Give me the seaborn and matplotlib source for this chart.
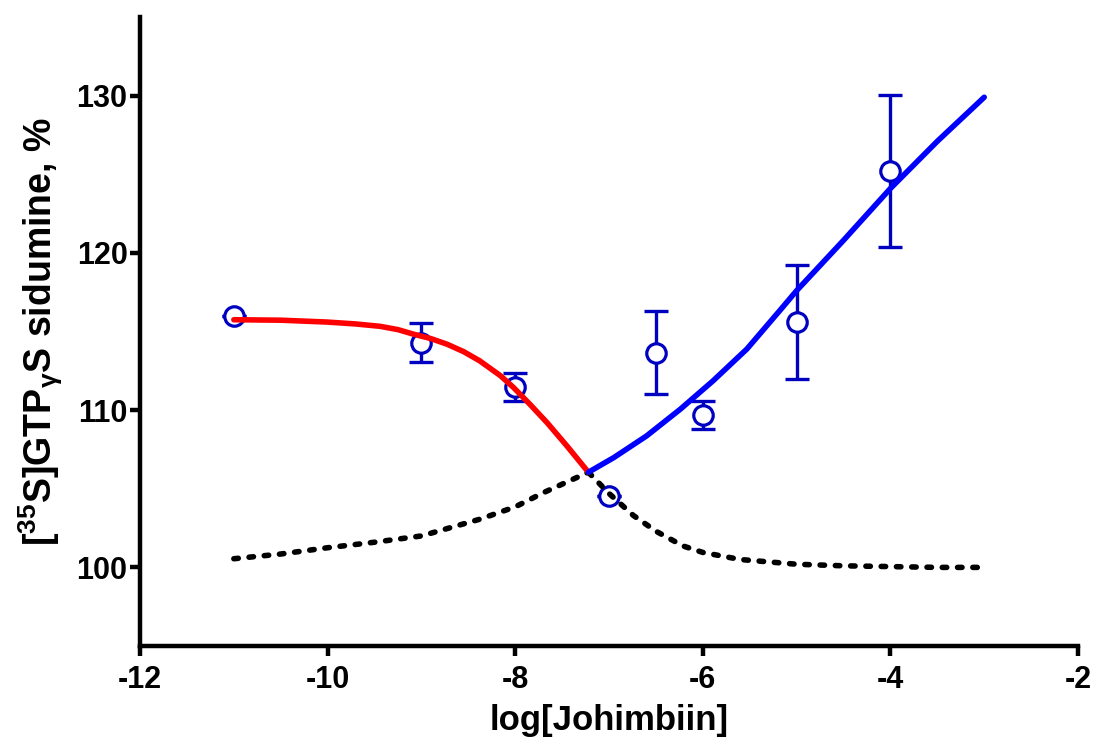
import numpy as np
import pandas as pd
import matplotlib
matplotlib.use('Agg')
import matplotlib.pyplot as plt
import seaborn as sns

# measured points (mean +/- SEM)
log_conc = [-11, -9, -8, -7, -6.5, -6, -5, -4]
response = [116.0, 114.3, 111.45, 104.55, 113.65, 109.7, 115.6, 125.2]
sem = [0, 1.25, 0.9, 0, 2.65, 0.9, 3.6, 4.85]

# fitted curves
red_x = [-11, -10.5, -10, -9.7, -9.44, -9.25, -9.09, -8.9, -8.73, -8.55, -8.38, -8.16,
         -8.02, -7.84, -7.66, -7.45, -7.22]
red_y = [115.75, 115.72, 115.6, 115.48, 115.33, 115.12, 114.84, 114.55, 114.2, 113.72,
         113.14, 112.2, 111.45, 110.35, 109.2, 107.73, 106.05]

blue_x = [-7.22, -6.95, -6.6, -6.24, -5.89, -5.53, -5.18, -5.0, -4.75, -4.5, -4.0, -3.5, -3.0]
blue_y = [106.05, 106.98, 108.36, 110.06, 111.87, 113.89, 116.33, 117.6, 119.2, 120.8, 124.1, 127.1, 129.9]

rise_x = [-11, -10.5, -10, -9.5, -9, -8.38, -8, -7.7, -7.22]
rise_y = [100.55, 100.85, 101.25, 101.6, 102.0, 103.06, 103.85, 104.75, 106.05]

fall_x = [-7.22, -7.0, -6.74, -6.5, -6.21, -6, -5.6, -5, -4.5, -4, -3.5, -3]
fall_y = [106.05, 104.7, 103.3, 102.3, 101.36, 100.95, 100.5, 100.2, 100.1, 100.05, 100.0, 100.0]

sns.set_style('ticks')
plt.rcParams['font.family'] = ['Liberation Sans', 'DejaVu Sans']
plt.rcParams['font.weight'] = 'bold'
plt.rcParams['mathtext.default'] = 'regular'
plt.rcParams['axes.unicode_minus'] = False
for k in ['text.color', 'axes.labelcolor', 'xtick.color', 'ytick.color', 'axes.edgecolor']:
    plt.rcParams[k] = 'black'

fig = plt.figure(figsize=(10.95, 7.47), dpi=100)
ax = fig.add_axes([0.1279, 0.1352, 0.8566, 0.842])

pt_color = '#0000C0'
ax.errorbar(log_conc, response, yerr=sem, fmt='none', ecolor=pt_color,
            elinewidth=2.4, capsize=8.3, capthick=2.4, zorder=2)
sns.scatterplot(x=log_conc, y=response, ax=ax, marker='o', s=14**2,
                facecolor='white', edgecolor=pt_color, linewidth=2.3, zorder=3)

dash = (0, (0.8, 1.95))
sns.lineplot(x=rise_x, y=rise_y, ax=ax, color='black', lw=4, linestyle=dash,
             dash_capstyle='round', zorder=4)
sns.lineplot(x=fall_x, y=fall_y, ax=ax, color='black', lw=4, linestyle=dash,
             dash_capstyle='round', zorder=4)
sns.lineplot(x=red_x, y=red_y, ax=ax, color='#FF0000', lw=4, zorder=5,
             solid_joinstyle='round')
sns.lineplot(x=blue_x, y=blue_y, ax=ax, color='#0000FF', lw=4, zorder=5,
             solid_joinstyle='round')

ax.set_xlim(-12, -2)
ax.set_ylim(95, 135)
ax.set_xticks([-12, -10, -8, -6, -4, -2])
ax.set_yticks([100, 110, 120, 130])
sns.despine(ax=ax)
for s in ['left', 'bottom']:
    ax.spines[s].set_linewidth(3.2)
ax.tick_params(width=3.2, length=7, labelsize=22)
ax.tick_params(axis='x', pad=7)
ax.tick_params(axis='y', pad=2)

ax.set_xlabel('log[Johimbiin]', fontsize=25, fontweight='bold', labelpad=6)
ax.set_ylabel('[$^{35}$S]GTP$_{\\gamma}$S sidumine, %', fontsize=27,
              fontweight='bold', labelpad=8)

fig.savefig('out.png', dpi=100)
